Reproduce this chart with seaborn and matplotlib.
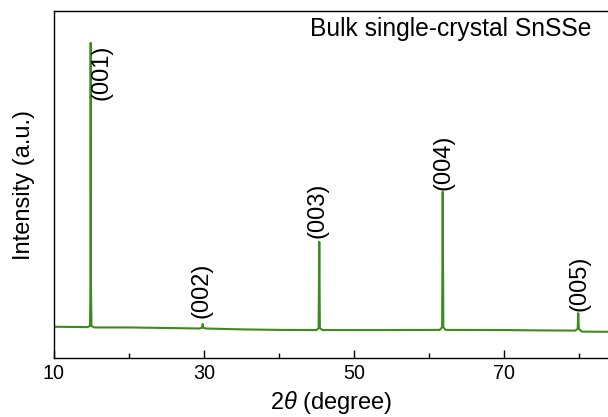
import matplotlib
matplotlib.use("Agg")
import matplotlib.pyplot as plt
import seaborn as sns
import pandas as pd
from matplotlib.ticker import MultipleLocator

# ---- data ----
two_theta = [10.0, 14.5, 14.8, 14.86, 14.89, 14.93, 15.0, 15.4, 20.0, 25.0,
             29.4, 29.72, 29.83, 29.92, 30.3, 35.0, 40.0,
             45.0, 45.28, 45.37, 45.45, 45.8, 50.0, 55.0,
             61.45, 61.75, 61.83, 61.91, 62.2, 70.0, 75.0,
             79.5, 79.82, 79.9, 79.98, 80.4, 84.0]
intensity = [9.0, 8.9, 9.3, 20.0, 90.8, 20.0, 9.2, 8.8, 8.8, 8.65,
             8.5, 8.7, 9.8, 8.7, 8.5, 8.25, 8.1,
             8.05, 8.6, 33.5, 8.6, 8.05, 8.05, 8.05,
             8.1, 8.9, 47.9, 8.9, 8.1, 8.05, 7.95,
             7.9, 8.4, 12.9, 8.4, 7.6, 7.55]

peak_labels = ["(001)", "(002)", "(003)", "(004)", "(005)"]
peak_label_x = [16.4, 29.7, 45.07, 61.87, 80.0]
peak_label_y = [82.3, 19.45, 42.65, 56.3, 21.5]

x_ticks = [10, 30, 50, 70]
title_text = "Bulk single-crystal SnSSe"

df = pd.DataFrame({"two_theta": two_theta, "intensity": intensity})

sns.set_style("ticks")
plt.rcParams["font.family"] = ["Liberation Sans", "DejaVu Sans"]
plt.rcParams["mathtext.fontset"] = "custom"
plt.rcParams["mathtext.it"] = "Liberation Sans:italic"
plt.rcParams["mathtext.rm"] = "Liberation Sans"
plt.rcParams["text.color"] = "black"
plt.rcParams["axes.labelcolor"] = "black"
plt.rcParams["xtick.color"] = "black"
plt.rcParams["ytick.color"] = "black"

fig = plt.figure(figsize=(6.08, 4.17), dpi=100)
ax = fig.add_axes([54 / 608, 59 / 417, (609 - 54) / 608, 347 / 417])

sns.lineplot(data=df, x="two_theta", y="intensity", ax=ax,
             color="#3E8A1E", linewidth=1.5, estimator=None, sort=False)

ax.set_xlim(10, 84)
ax.set_ylim(0, 100)
ax.set_xticks(x_ticks)
ax.xaxis.set_minor_locator(MultipleLocator(10))
ax.set_yticks([])
ax.tick_params(axis="x", which="major", direction="in", length=5.5, width=1,
               labelsize=14.2, pad=4.6, colors="black")
ax.tick_params(axis="x", which="minor", direction="in", length=3.6, width=1,
               colors="black")
ax.tick_params(axis="x", top=False, which="both")

for s in ax.spines.values():
    s.set_linewidth(1.0)
    s.set_color("black")

ax.set_xlabel(r"2$\theta$ (degree)", fontsize=17, labelpad=4, color="black")
ax.set_ylabel("Intensity (a.u.)", fontsize=17, labelpad=14, color="black")

for lab, lx, ly in zip(peak_labels, peak_label_x, peak_label_y):
    ax.text(lx, ly, lab, rotation=90, ha="center", va="center", fontsize=17,
            color="black")

ax.text(44.1, 92.8, title_text, ha="left", va="baseline", fontsize=17.7,
        color="black")

fig.savefig("out.png", dpi=100)
